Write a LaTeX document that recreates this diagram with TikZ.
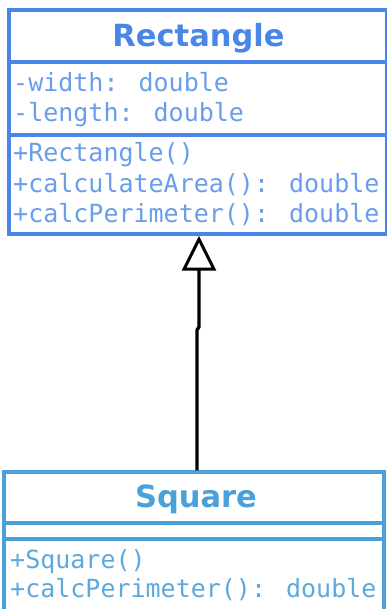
\documentclass[tikz,border=0pt]{standalone}
\usepackage{fontspec}
\setmainfont{DejaVu Sans}
\newfontfamily\umlmono{DejaVu Sans Mono}
\usetikzlibrary{arrows.meta}
\definecolor{rectblue}{HTML}{4A86E8}
\definecolor{recttext}{HTML}{6A9DEB}
\definecolor{sqblue}{HTML}{4AA0D8}
\definecolor{sqtext}{HTML}{5EA9DC}
\tikzset{
  classbox/.style={draw, line width=3.4pt, rectangle, inner sep=0pt},
  classtitle/.style={anchor=base, inner sep=0pt, font=\fontsize{30.5}{36}\selectfont\bfseries},
  member/.style={anchor=base west, inner sep=0pt, font=\umlmono\fontsize{25}{30}\selectfont},
  divider/.style={line width=3.4pt},
  inherit/.style={line width=3.2pt, black, -{Triangle[open, length=35pt, width=34pt, line width=3pt]}}
}
\begin{document}
\begin{tikzpicture}[x=1pt, y=1pt]
  \useasboundingbox (0,0) rectangle (387,-609);
  \fill[white] (0,0) rectangle (387,-609);

  % class Rectangle
  \node[classbox, rectblue, minimum width=377.5pt, minimum height=224pt] (rect) at (197.75,-122) {};
  \draw[divider, rectblue] (9,-62) -- (386.5,-62);
  \draw[divider, rectblue] (9,-135) -- (386.5,-135);
  \node[classtitle, rectblue] (recttitle) at (198.5,-47) {Rectangle};
  \node[member, recttext] (rw) at (13,-92) {-width: double};
  \node[member, recttext] (rl) at (13,-122) {-length: double};
  \node[member, recttext] (rc) at (13,-162) {+Rectangle()};
  \node[member, recttext] (ra) at (13,-193) {+calculateArea(): double};
  \node[member, recttext] (rp) at (13,-223) {+calcPerimeter(): double};

  % class Square
  \node[classbox, sqblue, minimum width=380pt, minimum height=150pt] (sq) at (194,-547) {};
  \draw[divider, sqblue] (4,-523) -- (384,-523);
  \draw[divider, sqblue] (4,-539) -- (384,-539);
  \node[classtitle, sqblue] (sqtitle) at (196,-507) {Square};
  \node[member, sqtext] (sc) at (10,-568) {+Square()};
  \node[member, sqtext] (sp) at (10,-597) {+calcPerimeter(): double};

  % generalisation: Square extends Rectangle
  \coordinate (jog1) at (197,-330);
  \coordinate (jog2) at (199,-327);
  \draw[inherit] (sq.north -| jog1) -- (jog1) -- (jog2) -- (jog2 |- rect.south);
\end{tikzpicture}
\end{document}
